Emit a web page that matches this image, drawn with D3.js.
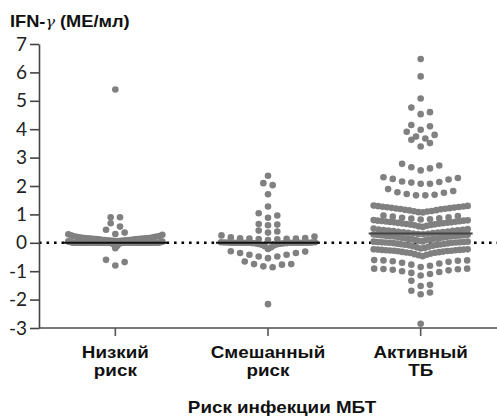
<!DOCTYPE html>
<html>
<head>
<meta charset="utf-8">
<script src="https://cdn.jsdelivr.net/npm/d3@7"></script>
<style>
  body { margin: 0; background: #fff; }
  svg { display: block; }
</style>
</head>
<body>
<script>
// categories (two text lines each)
const categories = ["Низкий риск", "Смешанный риск", "Активный ТБ"];
const catLines = [["Низкий", "риск"], ["Смешанный", "риск"], ["Активный", "ТБ"]];
const yTicks = [-3, -2, -1, 0, 1, 2, 3, 4, 5, 6, 7];

// IFN-gamma values, one array per group
const lowRisk = [
  -0.8, -0.68, -0.6,
  -0.19, -0.1, -0.05, -0.03, -0.02, -0.01,
  0, 0, 0, 0, 0, 0, 0, 0, 0, 0, 0, 0, 0, 0, 0, 0, 0, 0, 0, 0,
  0, 0, 0, 0, 0, 0, 0, 0, 0, 0, 0, 0, 0, 0, 0, 0, 0, 0, 0, 0,
  0.01, 0.02, 0.03, 0.04, 0.05,
  0.06, 0.06, 0.07, 0.07, 0.08, 0.08, 0.09, 0.09, 0.1, 0.1, 0.11, 0.11,
  0.12, 0.12, 0.13, 0.13, 0.14, 0.14, 0.15, 0.15, 0.16, 0.16, 0.17, 0.17,
  0.18, 0.18, 0.19, 0.2, 0.21, 0.22, 0.23, 0.24, 0.26, 0.28, 0.3,
  0.31, 0.36, 0.46, 0.57, 0.69, 0.9, 0.9, 5.4
];

const mixedRisk = [
  -2.16,
  -0.86, -0.83, -0.77, -0.75, -0.75, -0.66,
  -0.54, -0.48, -0.48, -0.42, -0.42, -0.36, -0.36, -0.31, -0.3,
  -0.22, -0.16, -0.12, -0.09, -0.07, -0.05, -0.04, -0.03, -0.02, -0.02, -0.01, -0.01,
  0, 0, 0, 0, 0, 0, 0, 0, 0, 0, 0, 0, 0, 0,
  0.01, 0.01, 0.01, 0.02, 0.02,
  0.1, 0.12, 0.13, 0.14, 0.15, 0.15, 0.16, 0.17, 0.19, 0.22, 0.26,
  0.36, 0.4, 0.43, 0.62, 0.64, 0.66, 0.88, 0.96, 1.04,
  1.28, 1.71, 2.03, 2.1, 2.36
];

const activeTB = [
  -2.85,
  -1.81, -1.75, -1.69, -1.52, -1.48, -1.34,
  -1.15, -1.1, -1.06, -1.03, -1.0, -0.97, -0.95, -0.93, -0.92, -0.91, -0.91,
  -0.85, -0.81, -0.77, -0.73, -0.7, -0.67, -0.65, -0.63, -0.62, -0.62, -0.61,
  -0.47, -0.44, -0.42, -0.4, -0.38, -0.36, -0.35, -0.34, -0.33, -0.32, -0.31, -0.3,
  -0.29, -0.28, -0.28, -0.27, -0.26, -0.26, -0.25, -0.25, -0.24, -0.24, -0.23, -0.23,
  -0.2, -0.18, -0.16, -0.14, -0.12, -0.1, -0.09, -0.08, -0.07, -0.06, -0.05, -0.04,
  -0.03, -0.02, -0.01, 0, 0, 0.01, 0.01, 0.02, 0.02, 0.03, 0.03, 0.04, 0.04,
  0.05, 0.07, 0.09, 0.1, 0.11, 0.12, 0.13, 0.14, 0.15, 0.16, 0.17, 0.18, 0.19, 0.2,
  0.21, 0.22, 0.22, 0.23, 0.24, 0.24, 0.25, 0.26, 0.26, 0.27, 0.27, 0.28, 0.28, 0.29,
  0.3, 0.31, 0.32, 0.33, 0.34, 0.35, 0.36, 0.37, 0.38, 0.39, 0.4, 0.41, 0.42, 0.43,
  0.44, 0.45, 0.46, 0.47, 0.48, 0.5,
  0.56, 0.58, 0.6, 0.62, 0.63, 0.64, 0.65, 0.66, 0.67, 0.68, 0.69, 0.7, 0.71, 0.72,
  0.72, 0.73, 0.74, 0.75, 0.76, 0.77, 0.78, 0.78, 0.79, 0.8,
  0.82, 0.83, 0.85, 0.86, 0.88, 0.9, 0.92, 0.94, 0.96,
  1.07, 1.08, 1.1, 1.11, 1.12, 1.14, 1.15, 1.16, 1.18, 1.19, 1.2, 1.21, 1.22, 1.23,
  1.24, 1.25, 1.26, 1.27, 1.28, 1.29, 1.3, 1.31,
  1.67, 1.67, 1.69, 1.72, 1.76, 1.78, 1.82, 1.89,
  2.08, 2.08, 2.12, 2.14, 2.16, 2.23, 2.25, 2.28, 2.31,
  2.55, 2.62, 2.66, 2.72, 2.78,
  3.39, 3.51, 3.63, 3.67, 3.74, 3.8, 3.91, 3.98, 4.1, 4.15,
  4.53, 4.6, 4.76, 5.08, 5.86, 6.47
];

const groups = [lowRisk, mixedRisk, activeTB];

const W = 497, H = 417;
const svg = d3.select("body").append("svg").attr("width", W).attr("height", H);

const x = d3.scalePoint().domain(categories).range([39, 497]).padding(0.5);
const y = d3.scaleLinear().domain([-3, 7]).range([328, 44]);

const R = 3.3;          // dot radius
const STEP = 9.3;       // spacing of dots in a row
const MAX_HALF = 47;    // widest half-width of a row
const ROW_SPAN = 0.25;  // values closer than this share a row
const STRETCH = 1.14;   // text in the picture is a bit wide

// Prism-like scatter: rows of close values, lowest value in the middle
function swarm(values, cx) {
  const sorted = values.slice().sort(d3.ascending);
  const rows = [];
  let cur = null;
  sorted.forEach(v => {
    if (!cur || v >= cur.start + ROW_SPAN) {
      cur = { start: v, vals: [] };
      rows.push(cur);
    }
    cur.vals.push(v);
  });
  const pts = [];
  rows.forEach(r => {
    const n = r.vals.length;
    const s = n > 1 ? Math.min(STEP, 2 * MAX_HALF / (n - 1)) : 0;
    const slots = d3.range(n).map(i => (i - (n - 1) / 2) * s);
    slots.sort((a, b) => Math.abs(a) - Math.abs(b) || b - a);
    r.vals.forEach((v, i) => pts.push({ x: cx + slots[i], y: y(v) }));
  });
  return pts;
}

function wideText(g, tx, ty, str) {
  return g.append("text")
    .attr("transform", `translate(${tx},${ty}) scale(${STRETCH},1)`)
    .text(str);
}

// zero line (dotted)
svg.append("line")
  .attr("x1", 39).attr("x2", W)
  .attr("y1", y(0)).attr("y2", y(0))
  .attr("stroke", "#000")
  .attr("stroke-width", 2.6)
  .attr("stroke-dasharray", "2.6 4.9");

// x axis
svg.append("line")
  .attr("x1", 39).attr("x2", W)
  .attr("y1", y(-3)).attr("y2", y(-3))
  .attr("stroke", "#7a7a7a").attr("stroke-width", 2);

svg.append("g").selectAll("line")
  .data(categories)
  .join("line")
    .attr("x1", d => x(d)).attr("x2", d => x(d))
    .attr("y1", y(-3)).attr("y2", y(-3) + 8)
    .attr("stroke", "#555").attr("stroke-width", 1.6);

// y axis
const yAxis = svg.append("g")
  .attr("transform", "translate(39,0)")
  .call(d3.axisLeft(y).tickValues(yTicks).tickSize(9).tickSizeOuter(0).tickPadding(3)
    .tickFormat(d => d));
yAxis.select(".domain").attr("stroke", "#444").attr("stroke-width", 1.6);
yAxis.selectAll(".tick line").attr("stroke", "#444").attr("stroke-width", 1.6);
yAxis.selectAll(".tick text")
  .attr("font-family", "Lato, 'DejaVu Sans', sans-serif")
  .attr("font-size", 19)
  .attr("fill", "#222");

// dots
groups.forEach((vals, i) => {
  const cx = x(categories[i]);
  svg.append("g").selectAll("circle")
    .data(swarm(vals, cx))
    .join("circle")
      .attr("cx", d => d.x)
      .attr("cy", d => d.y)
      .attr("r", R)
      .attr("fill", "#808080");
});

// median lines
svg.append("g").selectAll("line")
  .data(groups)
  .join("line")
    .attr("x1", (d, i) => x(categories[i]) - 52)
    .attr("x2", (d, i) => x(categories[i]) + 52)
    .attr("y1", d => y(d3.median(d)))
    .attr("y2", d => y(d3.median(d)))
    .attr("stroke", (d, i) => i === 2 ? "#444" : "#111")
    .attr("stroke-width", 2);

// category labels
const lab = svg.append("g")
  .attr("font-family", "'Liberation Sans', Arial, sans-serif")
  .attr("font-weight", "bold")
  .attr("font-size", 16.5)
  .attr("text-anchor", "middle")
  .attr("fill", "#111");
catLines.forEach((lines, i) => {
  lines.forEach((t, j) => wideText(lab, x(categories[i]), 358 + j * 18, t));
});

// x title
const xt = svg.append("g")
  .attr("font-family", "'Liberation Sans', Arial, sans-serif")
  .attr("font-weight", "bold")
  .attr("font-size", 16.5)
  .attr("text-anchor", "middle")
  .attr("fill", "#111");
wideText(xt, 282, 413, "Риск инфекции МБТ");

// y title
const yt = svg.append("text")
  .attr("transform", `translate(10,27) scale(${STRETCH},1)`)
  .attr("font-family", "'Liberation Sans', Arial, sans-serif")
  .attr("font-weight", "bold")
  .attr("font-size", 16)
  .attr("fill", "#111");
yt.append("tspan").text("IFN-");
yt.append("tspan")
  .attr("font-family", "'DejaVu Serif', serif")
  .attr("font-weight", "normal")
  .attr("font-style", "italic")
  .attr("font-size", 14)
  .text("γ");
yt.append("tspan").text(" (МЕ/мл)");
</script>
</body>
</html>
